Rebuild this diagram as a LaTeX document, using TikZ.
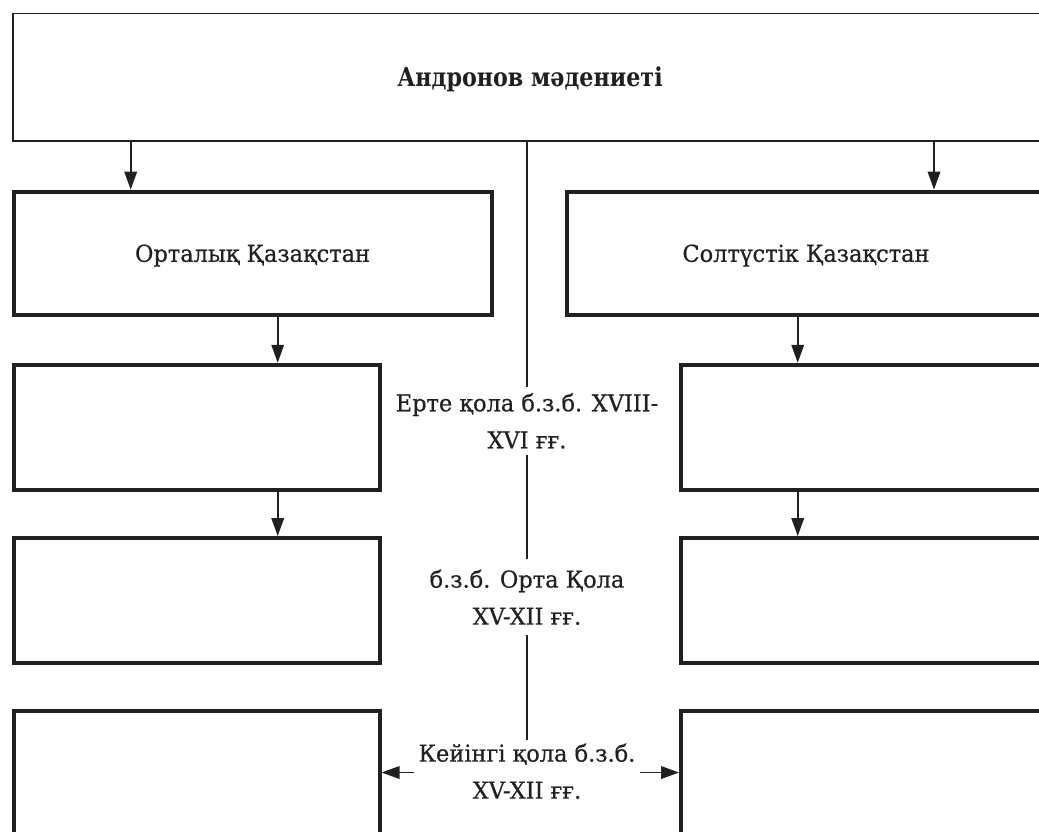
\documentclass[tikz,border=0pt]{standalone}
\usepackage{fontspec}
\setmainfont[FakeStretch=0.965,FakeBold=0.6]{DejaVu Serif}
\newfontfamily\titlefont[FakeStretch=0.855]{DejaVu Serif}
\usetikzlibrary{arrows.meta}
\definecolor{ink}{HTML}{231F20}
\begin{document}
\begin{tikzpicture}[x=1pt,y=-1pt,
  thickbox/.style={draw=ink, line width=3.8pt, inner sep=0pt, text=ink,
    font=\fontsize{23.3}{37}\selectfont, text height=17pt, text depth=0pt},
  topbox/.style={draw=ink, line width=1.8pt, inner sep=0pt, text=ink,
    font=\titlefont\bfseries\fontsize{26}{31}\selectfont, text height=19pt, text depth=0pt},
  period/.style={align=center, font=\fontsize{23.3}{37}\selectfont, text=ink,
    inner xsep=4pt, anchor=north},
  conn/.style={draw=ink, line width=1.8pt},
  arr/.style={conn, -{Triangle[length=18pt,width=12.5pt]}},
]
\path[use as bounding box, clip] (0,0) rectangle (1039,832);

\node[topbox, minimum width=1034.4pt, minimum height=127.4pt] (top) at (530,77.2) {Андронов мәдениеті};

\node[thickbox, minimum width=478pt, minimum height=123.4pt] (L1) at (252.6,253.3) {Орталық Қазақстан};
\node[thickbox, minimum width=478pt, minimum height=123.4pt] (R1) at (806,253.3) {Солтүстік Қазақстан};

\node[thickbox, minimum width=366pt, minimum height=125pt] (L2) at (196.6,427.2) {};
\node[thickbox, minimum width=366pt, minimum height=125pt] (R2) at (864,427.2) {};
\node[thickbox, minimum width=366pt, minimum height=125pt] (L3) at (196.6,600.5) {};
\node[thickbox, minimum width=366pt, minimum height=125pt] (R3) at (864,600.5) {};
\node[thickbox, minimum width=366pt, minimum height=123pt] (L4) at (196.6,772.5) {};
\node[thickbox, minimum width=366pt, minimum height=123pt] (R4) at (864,772.5) {};

\node[period, inner ysep=6pt] (p1) at (527,387) {Ерте қола б.з.б. XVIII-\\XVI ғғ.};
\node[period, inner ysep=10.3pt] (p2) at (527,559) {б.з.б. Орта Қола\\XV-XII ғғ.};
\node[period, inner ysep=3.3pt] (p3) at (527,740) {Кейінгі қола б.з.б.\\XV-XII ғғ.};

\coordinate (xa) at (130.7,0);
\coordinate (xb) at (934,0);
\coordinate (xc) at (277.7,0);
\coordinate (xd) at (797.7,0);

\draw[arr] (top.south -| xa) -- (L1.north -| xa);
\draw[arr] (top.south -| xb) -- (R1.north -| xb);
\draw[arr] (L1.south -| xc) -- (L2.north -| xc);
\draw[arr] (L2.south -| xc) -- (L3.north -| xc);
\draw[arr] (R1.south -| xd) -- (R2.north -| xd);
\draw[arr] (R2.south -| xd) -- (R3.north -| xd);
\draw[conn] (top.south -| p1.north) -- (p1.north);
\draw[conn] (p1.south) -- (p2.north);
\draw[conn] (p2.south) -- (p3.north);
\draw[arr] (p3.west |- L4.east) -- (L4.east);
\draw[arr] (p3.east |- R4.west) -- (R4.west);
\end{tikzpicture}
\end{document}
